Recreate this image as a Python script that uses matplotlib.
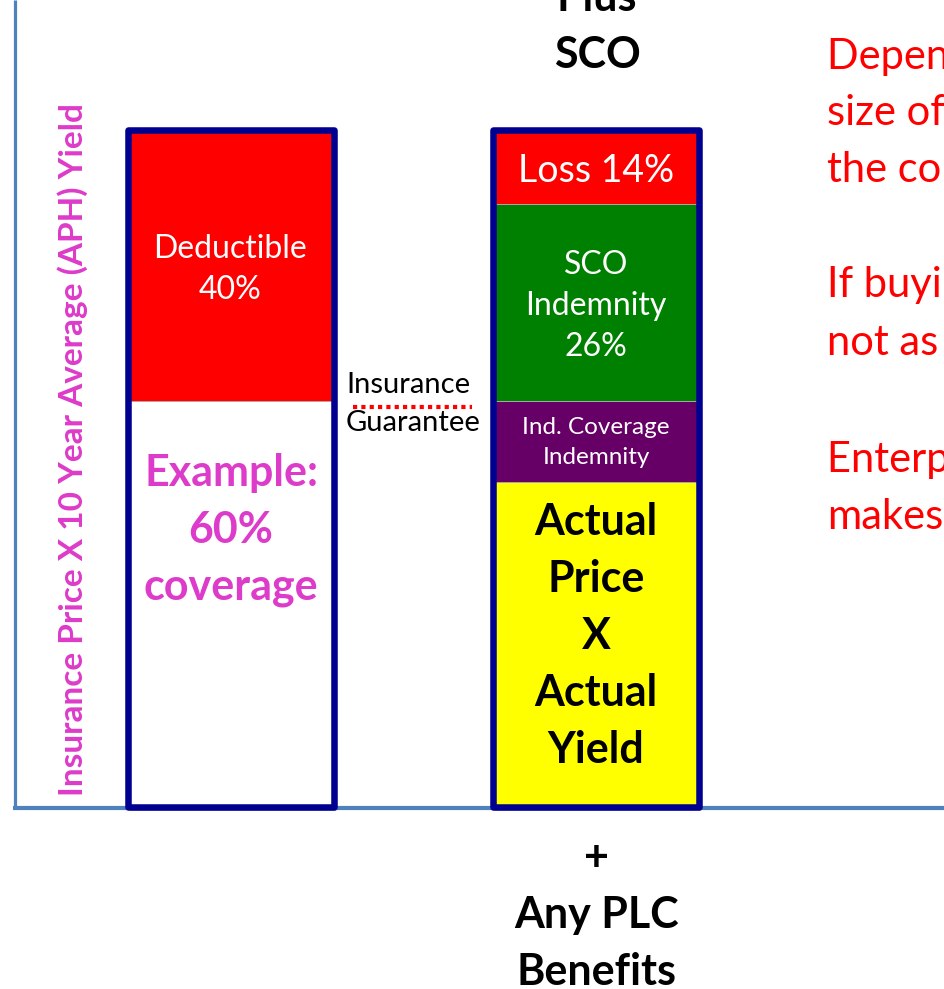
import matplotlib.pyplot as plt
import matplotlib.patheffects as pe

# Data: stacked bar segments, % of guarantee (as drawn)
left_segments = [60, 40]
left_colors = ['#FFFFFF', '#FF0000']
right_segments = [48, 12, 29, 11]
right_colors = ['#FFFF00', '#660066', '#008000', '#FF0000']

W, H = 944, 989
ZERO_PX, FULL_PX = 807, 130     # pixel rows of 0% and 100%
NAVY = '#000090'
MAGENTA = '#DD3BC9'
AXIS_BLUE = '#4F81BD'
FONT = ['Lato', 'DejaVu Sans']

plt.rcParams['font.family'] = FONT

fig = plt.figure(figsize=(W / 100, H / 100), dpi=100, facecolor='white')
ax = fig.add_axes([0, 0, 1, 1])
scale = (ZERO_PX - FULL_PX) / 100.0
ax.set_xlim(0, W)
ax.set_ylim((ZERO_PX - H) / scale, ZERO_PX / scale)
ax.axis('off')


def ypx(p):
    # pixel row -> data units
    return (ZERO_PX - p) / scale


def lines(x, y0, step, texts, **kw):
    for i, t in enumerate(texts):
        ax.text(x, ypx(y0 + i * step), t, ha='center', va='center', **kw)


# axes lines
ax.plot([14.5, 14.5], [ypx(808), ypx(0)], color=AXIS_BLUE, lw=2.3, solid_capstyle='butt', zorder=1)
ax.plot([13, W], [ypx(808), ypx(808)], color=AXIS_BLUE, lw=3, solid_capstyle='butt', zorder=1)


def stacked(xc, segs, colors):
    width = 206
    total = sum(segs)
    bg = ax.bar(xc, total, width=width, bottom=0, color='white', zorder=2)
    for r in bg:
        r.set_path_effects([pe.SimplePatchShadow(offset=(2, -3), shadow_rgbFace='#888888', alpha=0.45), pe.Normal()])
    bottom = 0
    for v, c in zip(segs, colors):
        ax.bar(xc, v, width=width, bottom=bottom, color=c, edgecolor='#B0B0B0', lw=0.6, zorder=3)
        bottom += v
    ax.bar(xc, total, width=width, bottom=0, fill=False, edgecolor=NAVY, lw=4.7, zorder=4,
           joinstyle='round')


stacked(230.5, left_segments, left_colors)
stacked(595.5, right_segments, right_colors)

# left bar labels
lines(230.5, 249, 41, ['Deductible', '40%'], color='white', fontsize=23)
lines(231, 473, 57, ['Example:', '60%', 'coverage'], color=MAGENTA, fontsize=31, fontweight='bold')

# right bar labels
lines(596, 171, 0, ['Loss 14%'], color='white', fontsize=27)
lines(596, 265, 41, ['SCO', 'Indemnity', '26%'], color='white', fontsize=23)
lines(596, 427, 31, ['Ind. Coverage', 'Indemnity'], color='white', fontsize=17.5)
lines(596, 522, 57, ['Actual', 'Price', 'X', 'Actual', 'Yield'], color='black', fontsize=31,
      fontweight='bold')

# insurance guarantee marker
ax.text(346, ypx(385), 'Insurance', ha='left', va='center', color='black', fontsize=21)
ax.text(346, ypx(423), 'Guarantee', ha='left', va='center', color='black', fontsize=21)
ax.plot([353, 472], [ypx(407), ypx(407)], color='#FF0000', lw=3, linestyle=(0, (1, 1)),
        solid_capstyle='butt', zorder=5)

# titles above / below
lines(597, -2, 57, ['Plus', 'SCO'], color='black', fontsize=31, fontweight='bold')
lines(597, 858, 57, ['+', 'Any PLC', 'Benefits'], color='black', fontsize=31, fontweight='bold')

# y label
ax.text(73, ypx(450), 'Insurance Price X 10 Year Average (APH) Yield', rotation=90,
        ha='center', va='center', color=MAGENTA, fontsize=24, fontweight='bold')

# notes on the right (clipped by the figure edge)
notes = [(57, 'Depends on the'), (113, 'size of the loss in'), (170, 'the county'),
         (285, 'If buying SCO,'), (343, 'not as'), (460, 'Enterprise unit'), (517, 'makes')]
for y, t in notes:
    ax.text(827, ypx(y), t, ha='left', va='center', color='#FF0000', fontsize=30)

fig.savefig('out.png', dpi=100)
